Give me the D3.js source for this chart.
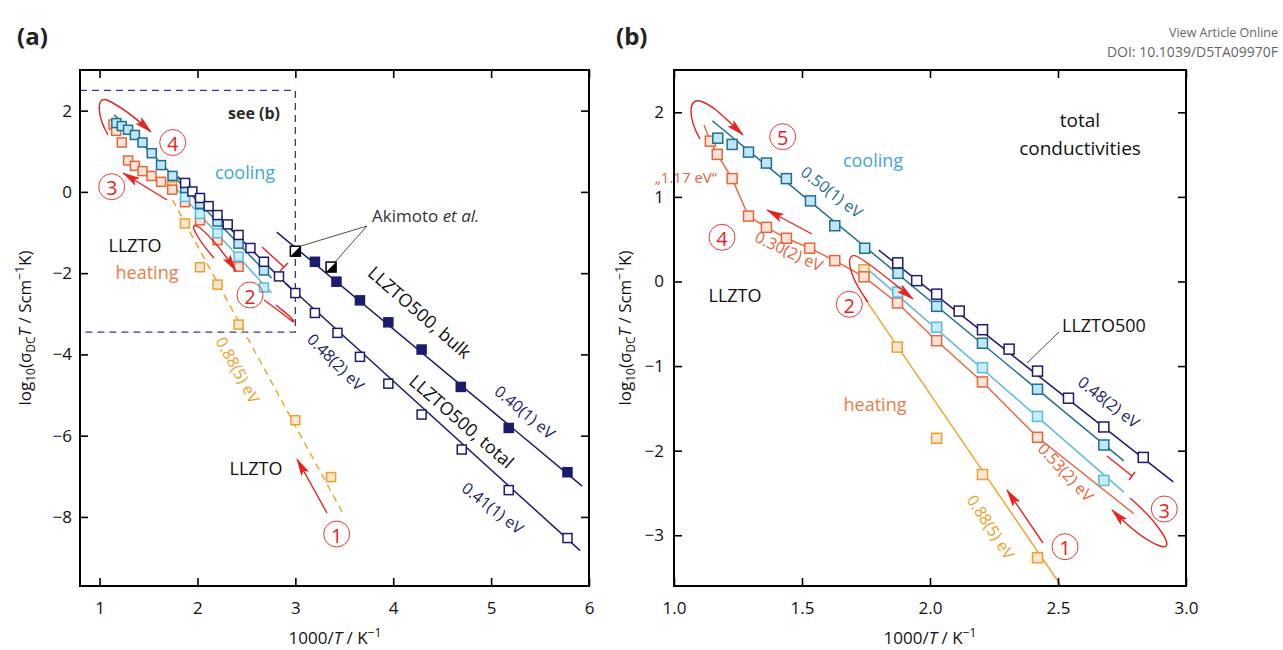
<!DOCTYPE html>
<html><head><meta charset="utf-8">
<script src="https://cdn.jsdelivr.net/npm/d3@7"></script>
<style>
body{margin:0;background:#fff}
text{font-family:"Open Sans","Noto Sans",sans-serif}
</style>
</head><body>
<svg id="c" width="1283" height="650"></svg>
<script>
// ---------------- DATA (1000/T in K^-1, log10(sigma T / S cm^-1 K)) ----------------
const totalX = [1.874,1.948,2.026,2.114,2.205,2.309,2.420,2.541,2.679,2.833,3.00,3.20,3.43,3.66,3.95,4.29,4.70,5.18,5.78];
const totalY = [0.22,0.01,-0.15,-0.35,-0.57,-0.80,-1.06,-1.38,-1.72,-2.08,-2.49,-2.98,-3.47,-4.06,-4.72,-5.48,-6.34,-7.34,-8.52];
const bulkX = [3.20,3.42,3.66,3.95,4.29,4.69,5.18,5.78];
const bulkY = [-1.72,-2.21,-2.67,-3.21,-3.88,-4.80,-5.81,-6.90];
const akimotoX = [3.00,3.365];
const akimotoY = [-1.46,-1.85];
const coolX = [1.171,1.227,1.291,1.361,1.439,1.533,1.628,1.745,1.875,2.026,2.205,2.420,2.679];
const coolY = [1.694,1.62,1.529,1.40,1.216,0.953,0.659,0.393,0.096,-0.294,-0.73,-1.274,-1.933];
const cool2X = [1.874,2.026,2.205,2.420,2.679];
const cool2Y = [-0.125,-0.541,-1.019,-1.595,-2.353];
const heatX = [1.142,1.169,1.227,1.291,1.361,1.439,1.530,1.628,1.742,1.873,2.026,2.205,2.420];
const heatY = [1.659,1.502,1.216,0.773,0.64,0.511,0.393,0.247,0.055,-0.254,-0.70,-1.188,-1.842];
const firstX = [1.742,1.872,2.026,2.205,2.420,3.00,3.365];
const firstY = [0.138,-0.776,-1.854,-2.282,-3.266,-5.62,-7.02];
// fit lines: [x, y] end points
const fitTotalLow = [[1.80,0.37],[3.00,-2.49]];      // 0.48(2) eV
const fitTotalHigh = [[2.90,-2.25],[5.91,-8.83]];    // 0.41(1) eV
const fitBulk = [[2.81,-0.99],[5.93,-7.24]];         // 0.40(1) eV
const fitCool = [[1.15,1.90],[2.757,-2.12]];         // 0.50(1) eV
const fitCool2 = [[1.745,0.176],[2.757,-2.49]];
const fitFirst = [[1.745,-0.20],[3.49,-7.93]];       // 0.88(5) eV
const fitTotalB = [[1.80,0.37],[2.95,-2.37]];        // 0.48(2) eV (panel b)
const heatStart = [1.117,1.85], heatEnd = [2.796,-2.745]; // 1.17 / 0.30 / 0.53 eV
// ticks
const xTicksA = [1,2,3,4,5,6], yTicksA = [2,0,-2,-4,-6,-8];
const xTicksB = [1.0,1.5,2.0,2.5,3.0], yTicksB = [2,1,0,-1,-2,-3];
const xMaxB = 2.9; // panel b shows only points up to here

// ---------------- STYLE ----------------
const NAVY='#1c1c6e', TEAL='#1f6e96', TEALF='#c0e7f6', LB='#5cb9e2', LBF='#c6eefb',
      RED='#e8643a', REDF='#f9e4d8', ORG='#f0a02a', ORGF='#f8e7d3', ARR='#e8231f';
const svg = d3.select('#c');

const defs = svg.append('defs');
defs.append('marker').attr('id','ah').attr('viewBox','0 0 20 10').attr('refX',19).attr('refY',5)
  .attr('markerWidth',20).attr('markerHeight',9).attr('markerUnits','userSpaceOnUse').attr('orient','auto')
  .append('path').attr('d','M0,0 L20,5 L0,10 L4,5 Z').attr('fill',ARR);

function panel(id, l, r, t, b, xd, yd){
  const x = d3.scaleLinear(xd,[l,r]), y = d3.scaleLinear(yd,[t,b]);
  defs.append('clipPath').attr('id','clip'+id).append('rect').attr('x',l).attr('y',t).attr('width',r-l).attr('height',b-t);
  const g = svg.append('g');
  const inner = g.append('g').attr('clip-path',`url(#clip${id})`);
  return {g, inner, x, y, l, r, t, b};
}
function axes(p, xt, yt, xfmt, lpad){
  const sty = s => { s.select('.domain').remove(); s.selectAll('line').attr('stroke','#000').attr('stroke-width',1.6);
    s.selectAll('text').attr('font-size',17).attr('fill','#111').attr('font-family','"Open Sans",sans-serif'); };
  p.g.append('g').attr('transform',`translate(0,${p.b})`).call(d3.axisBottom(p.x).tickValues(xt).tickSizeInner(-8).tickSizeOuter(0).tickPadding(16).tickFormat(xfmt)).call(sty);
  p.g.append('g').attr('transform',`translate(0,${p.t})`).call(d3.axisTop(p.x).tickValues(xt).tickSizeInner(-8).tickSizeOuter(0).tickFormat('')).call(sty);
  p.g.append('g').attr('transform',`translate(${p.l},0)`).call(d3.axisLeft(p.y).tickValues(yt).tickSizeInner(-8).tickSizeOuter(0).tickPadding(lpad).tickFormat(d3.format('d'))).call(sty);
  p.g.append('g').attr('transform',`translate(${p.r},0)`).call(d3.axisRight(p.y).tickValues(yt).tickSizeInner(-8).tickSizeOuter(0).tickFormat('')).call(sty);
  p.g.append('rect').attr('x',p.l).attr('y',p.t).attr('width',p.r-p.l).attr('height',p.b-p.t)
    .attr('fill','none').attr('stroke','#000').attr('stroke-width',2);
}
function line(p, pts, color, w=1.5, dash=null){
  const gen = d3.line().x(d=>p.x(d[0])).y(d=>p.y(d[1]));
  p.inner.append('path').attr('d',gen(pts)).attr('fill','none').attr('stroke',color).attr('stroke-width',w)
    .attr('stroke-dasharray',dash);
}
function squares(p, xs, ys, s, stroke, fill, xmax=Infinity, sw=1.5){
  const pts = xs.map((v,i)=>[v,ys[i]]).filter(d=>d[0]<=xmax);
  p.inner.append('g').selectAll('rect').data(pts).join('rect')
    .attr('x',d=>p.x(d[0])-s/2).attr('y',d=>p.y(d[1])-s/2).attr('width',s).attr('height',s)
    .attr('fill',fill).attr('stroke',stroke).attr('stroke-width',sw);
}
function halfSquares(p, xs, ys, s){
  const g = p.inner.append('g');
  xs.forEach((v,i)=>{
    const cx=p.x(v), cy=p.y(ys[i]);
    g.append('rect').attr('x',cx-s/2).attr('y',cy-s/2).attr('width',s).attr('height',s).attr('fill','#fff').attr('stroke','#000').attr('stroke-width',1.5);
    g.append('path').attr('d',`M${cx+s/2},${cy-s/2} L${cx+s/2},${cy+s/2} L${cx-s/2},${cy+s/2} Z`).attr('fill','#000');
  });
}
function txt(x, y, s, opt={}){
  const t = svg.append('text').attr('x',x).attr('y',y).text(s)
    .attr('font-size',opt.size||17).attr('fill',opt.color||'#111')
    .attr('text-anchor',opt.anchor||'middle').attr('dominant-baseline','central');
  if(opt.rot) t.attr('transform',`rotate(${opt.rot},${x},${y})`);
  if(opt.bold) t.attr('font-weight','bold');
  return t;
}
function circ(x, y, n){
  svg.append('circle').attr('cx',x).attr('cy',y).attr('r',13).attr('fill','none').attr('stroke',ARR).attr('stroke-width',0.9);
  txt(x, y+1, n, {color:ARR, size:20});
}
function arrow(d, head=true){
  const p = svg.append('path').attr('d',d).attr('fill','none').attr('stroke',ARR).attr('stroke-width',1.4);
  if(head) p.attr('marker-end','url(#ah)');
}
function ylabel(x, y){
  const t = svg.append('text').attr('transform',`translate(${x},${y}) rotate(-90)`).attr('text-anchor','middle')
    .attr('font-size',17).attr('fill','#111');
  t.append('tspan').text('log');
  t.append('tspan').text('10').attr('font-size',12).attr('dy',4);
  t.append('tspan').text('(σ').attr('dy',-4);
  t.append('tspan').text('DC').attr('font-size',12).attr('dy',4);
  t.append('tspan').text('T').attr('font-style','italic').attr('dy',-4);
  t.append('tspan').text(' / Scm');
  t.append('tspan').text('−1').attr('font-size',12).attr('dy',-7);
  t.append('tspan').text('K)').attr('dy',7);
}
function xlabel(x, y){
  const t = svg.append('text').attr('x',x).attr('y',y).attr('text-anchor','middle').attr('font-size',17).attr('fill','#111');
  t.append('tspan').text('1000/');
  t.append('tspan').text('T').attr('font-style','italic');
  t.append('tspan').text(' / K');
  t.append('tspan').text('−1').attr('font-size',12).attr('dy',-7);
}

// ---------------- PANEL A ----------------
const A = panel('a', 80, 589, 70, 586, [0.8,6.0], [3,-9.7]);
A.inner.append('rect').attr('x',A.l).attr('y',A.y(2.5)).attr('width',A.x(3.0)-A.l).attr('height',A.y(-3.45)-A.y(2.5))
  .attr('fill','none').attr('stroke','#3a3a8c').attr('stroke-width',1.3).attr('stroke-dasharray','7,5');
line(A, fitFirst, ORG, 1.4, '7,5');
line(A, fitCool2, LB, 1.5);
line(A, fitCool, TEAL, 1.5);
line(A, fitTotalLow, NAVY, 1.5);
line(A, fitTotalHigh, NAVY, 1.5);
line(A, fitBulk, NAVY, 1.5);
squares(A, firstX, firstY, 9, ORG, ORGF);
squares(A, heatX, heatY, 9, RED, REDF);
squares(A, cool2X, cool2Y, 9, LB, LBF);
squares(A, coolX, coolY, 9, TEAL, TEALF);
squares(A, totalX, totalY, 9, NAVY, '#fff');
squares(A, bulkX, bulkY, 9, NAVY, NAVY);
halfSquares(A, akimotoX, akimotoY, 10);
axes(A, xTicksA, yTicksA, d3.format('d'), 8);

txt(280, 113, 'see (b)', {anchor:'end', bold:true, size:16, color:'#2a2a2a'});
txt(245, 172, 'cooling', {color:'#3ea7db', size:18});
txt(135, 245, 'LLZTO', {size:18});
txt(147, 272, 'heating', {color:'#f07a45', size:18});
txt(256, 468, 'LLZTO', {size:18});
{
  const t = svg.append('text').attr('x',372).attr('y',222).attr('font-size',17).attr('fill','#333');
  t.append('tspan').text('Akimoto ');
  t.append('tspan').text('et al.').attr('font-style','italic');
  svg.append('path').attr('d','M301,246 L367,226 M335,262 L367,226').attr('stroke','#222').attr('stroke-width',0.8).attr('fill','none');
}
txt(420, 312, 'LLZTO500, bulk', {rot:41, size:18});
txt(462, 421, 'LLZTO500, total', {rot:41, size:18});
txt(525, 412, '0.40(1) eV', {rot:40, color:NAVY, size:16});
txt(336, 362, '0.48(2) eV', {rot:45, color:NAVY, size:16});
txt(493, 508, '0.41(1) eV', {rot:38, color:NAVY, size:16});
txt(238, 370, '0.88(5) eV', {rot:61, color:ORG, size:16});
circ(172.7, 142.5, '4'); circ(111.7, 186.7, '3'); circ(250, 295, '2'); circ(336.7, 534, '1');
arrow('M108,135 C 97,116 96,96 107,100 C 120,106 138,120 151,132');
arrow('M167,200 L123,173');
arrow('M214,258 C 198,240 188,222 197,226 C 206,231 222,250 236,271');
arrow('M264,300 C 280,311 298,327 293,320 C 289,315 283,311 276,305', false);
arrow('M327,513 L297,459');
arrow('M262,247 L284,267', false);
arrow('M280,271 L288,263', false);
ylabel(31, 328);
xlabel(335, 644);

// ---------------- PANEL B ----------------
const B = panel('b', 674, 1186, 70, 586, [1,3], [2.5,-3.6]);
line(B, fitFirst, ORG, 1.4);
line(B, [heatStart, ...heatX.map((v,i)=>[v,heatY[i]]), heatEnd], RED, 1.4);
line(B, fitCool2, LB, 1.5);
line(B, fitCool, TEAL, 1.5);
line(B, fitTotalB, NAVY, 1.5);
squares(B, firstX, firstY, 10, ORG, ORGF, xMaxB);
squares(B, heatX, heatY, 10, RED, REDF, xMaxB);
squares(B, cool2X, cool2Y, 10, LB, LBF, xMaxB);
squares(B, coolX, coolY, 10, TEAL, TEALF, xMaxB);
squares(B, totalX, totalY, 10, NAVY, '#fff', xMaxB);
axes(B, xTicksB, yTicksB, d3.format('.1f'), 10);

txt(1080, 120, 'total', {size:19});
txt(1080, 148, 'conductivities', {size:19});
txt(873, 160, 'cooling', {color:'#3ea7db', size:18});
txt(832, 192, '0.50(1) eV', {rot:38, color:TEAL, size:16});
txt(717, 177, '„1.17 eV“', {anchor:'end', color:RED, size:15});
txt(789, 251, '0.30(2) eV', {rot:25, color:RED, size:16});
txt(735, 295, 'LLZTO', {size:18});
txt(875, 404, 'heating', {color:'#f07a45', size:18});
txt(1062, 325, 'LLZTO500', {anchor:'start', size:18});
svg.append('path').attr('d','M1059,332 L1027,363').attr('stroke','#222').attr('stroke-width',0.8);
txt(1109, 402, '0.48(2) eV', {rot:38, color:NAVY, size:16});
txt(1066, 472, '0.53(2) eV', {rot:47, color:RED, size:16});
txt(991, 527, '0.88(5) eV', {rot:57, color:ORG, size:16});
circ(782.7, 136.7, '5'); circ(722, 237.3, '4'); circ(849.3, 304.3, '2'); circ(1065, 546.7, '1'); circ(1164.3, 509, '3');
arrow('M700,139 C 688,118 688,98 700,101 C 714,105 728,121 743,135');
arrow('M812,234 L767,210');
arrow('M868,302 C 846,272 845,250 858,257 C 874,266 894,284 913,299');
arrow('M1043,543 L1007,490');
arrow('M1130,498 C 1158,522 1178,552 1160,546 C 1145,541 1126,524 1112,510');
arrow('M1107,456 L1132,476', false);
arrow('M1129,480 L1135,472', false);
ylabel(631, 328);
xlabel(930, 644);

// ---------------- HEADER ----------------
txt(17, 35, '(a)', {anchor:'start', bold:true, size:24, color:'#222'});
txt(616, 35, '(b)', {anchor:'start', bold:true, size:24, color:'#222'});
svg.append('text').attr('x',1278).attr('y',37).attr('text-anchor','end').attr('font-size',12.5).attr('fill','#666')
  .text('View Article Online');
svg.append('text').attr('x',1278).attr('y',57).attr('text-anchor','end').attr('font-size',14).attr('fill','#666')
  .text('DOI: 10.1039/D5TA09970F');
</script>
</body></html>
